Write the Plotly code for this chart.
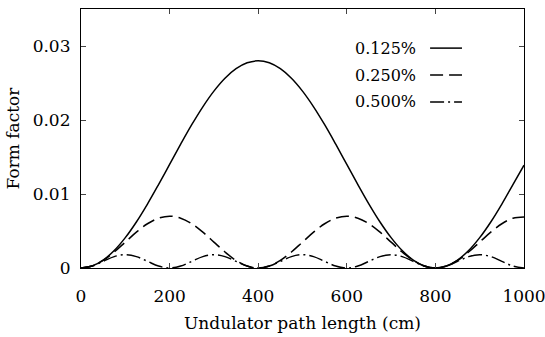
import plotly.graph_objects as go

# x positions (cm)
path_length = [0, 25, 50, 75, 100, 125, 150, 175, 200, 225, 250, 275, 300, 325, 350, 375, 400,
               425, 450, 475, 500, 525, 550, 575, 600, 625, 650, 675, 700, 725, 750, 775, 800,
               825, 850, 875, 900, 925, 950, 975, 1000]

# Form factor
ff_0125 = [0, 0.00027, 0.00107, 0.00236, 0.0041, 0.00622, 0.00864, 0.01127, 0.0140, 0.01673,
           0.01936, 0.02178, 0.0239, 0.02564, 0.02693, 0.02773, 0.0280,
           0.02773, 0.02693, 0.02564, 0.0239, 0.02178, 0.01936, 0.01673, 0.0140, 0.01127,
           0.00864, 0.00622, 0.0041, 0.00236, 0.00107, 0.00027, 0,
           0.00027, 0.00107, 0.00236, 0.0041, 0.00622, 0.00864, 0.01127, 0.0139]
ff_0250 = [0, 0.00027, 0.00102, 0.00216, 0.0035, 0.00484, 0.00598, 0.00673, 0.0070,
           0.00673, 0.00598, 0.00484, 0.0035, 0.00216, 0.00102, 0.00027, 0,
           0.00027, 0.00102, 0.00216, 0.0035, 0.00484, 0.00598, 0.00673, 0.0070,
           0.00673, 0.00598, 0.00484, 0.0035, 0.00216, 0.00102, 0.00027, 0,
           0.00027, 0.00102, 0.00216, 0.0035, 0.00484, 0.00598, 0.00673, 0.0069]
ff_0500 = [0, 0.00026, 0.0009, 0.00154, 0.0018, 0.00154, 0.0009, 0.00026, 0,
           0.00026, 0.0009, 0.00154, 0.0018, 0.00154, 0.0009, 0.00026, 0,
           0.00026, 0.0009, 0.00154, 0.0018, 0.00154, 0.0009, 0.00026, 0,
           0.00026, 0.0009, 0.00154, 0.0018, 0.00154, 0.0009, 0.00026, 0,
           0.00026, 0.0009, 0.00154, 0.0018, 0.00154, 0.0009, 0.00026, 0]

series_names = ["0.125%", "0.250%", "0.500%"]
series_values = [ff_0125, ff_0250, ff_0500]
dashes = ["solid", "13px,6px", "14px,4px,2px,4px"]

x_ticks = [0, 200, 400, 600, 800, 1000]
y_ticks = [0, 0.01, 0.02, 0.03]
y_tick_text = ["0", "0.01", "0.02", "0.03"]

FONT = "DejaVu Serif"

fig = go.Figure()
for name, vals, dash in zip(series_names, series_values, dashes):
    fig.add_trace(go.Scatter(x=path_length, y=vals, mode="lines", name=name,
                             line=dict(color="black", width=1.5, dash=dash, shape="spline"),
                             showlegend=False))

# legend drawn manually (text then sample line)
leg_y = [0.849, 0.745, 0.641]
for name, dash, yy in zip(series_names, dashes, leg_y):
    fig.add_annotation(x=0.761, y=yy, xref="paper", yref="paper", text=name,
                       showarrow=False, xanchor="right", yanchor="middle",
                       font=dict(family=FONT, size=16, color="black"))
    fig.add_shape(type="line", xref="paper", yref="paper", x0=0.788, x1=0.860, y0=yy, y1=yy,
                  line=dict(color="black", width=1.5, dash=dash))

fig.update_layout(
    width=545, height=337,
    margin=dict(l=81, r=21, t=9, b=69),
    paper_bgcolor="white", plot_bgcolor="white",
    font=dict(family=FONT, size=17, color="black"),
    xaxis=dict(range=[0, 1000], tickvals=x_ticks, ticks="inside", ticklen=5,
               tickfont=dict(family=FONT, size=17, color="black"),
               ticklabeloverflow="allow", ticklabelstandoff=12, automargin=False,
               showline=True, linecolor="black", linewidth=1.2, mirror="ticks",
               showgrid=False, zeroline=False,
               title=dict(text="Undulator path length (cm)", standoff=12,
                          font=dict(family=FONT, size=17))),
    yaxis=dict(range=[0, 0.035], tickvals=y_ticks, ticktext=y_tick_text, ticks="inside", ticklen=5,
               tickfont=dict(family=FONT, size=17, color="black"),
               ticklabelstandoff=6, automargin=False,
               showline=True, linecolor="black", linewidth=1.2, mirror="ticks",
               showgrid=False, zeroline=False,
               title=dict(text="Form factor", standoff=8, font=dict(family=FONT, size=17))),
)

fig.write_html("out.html")
